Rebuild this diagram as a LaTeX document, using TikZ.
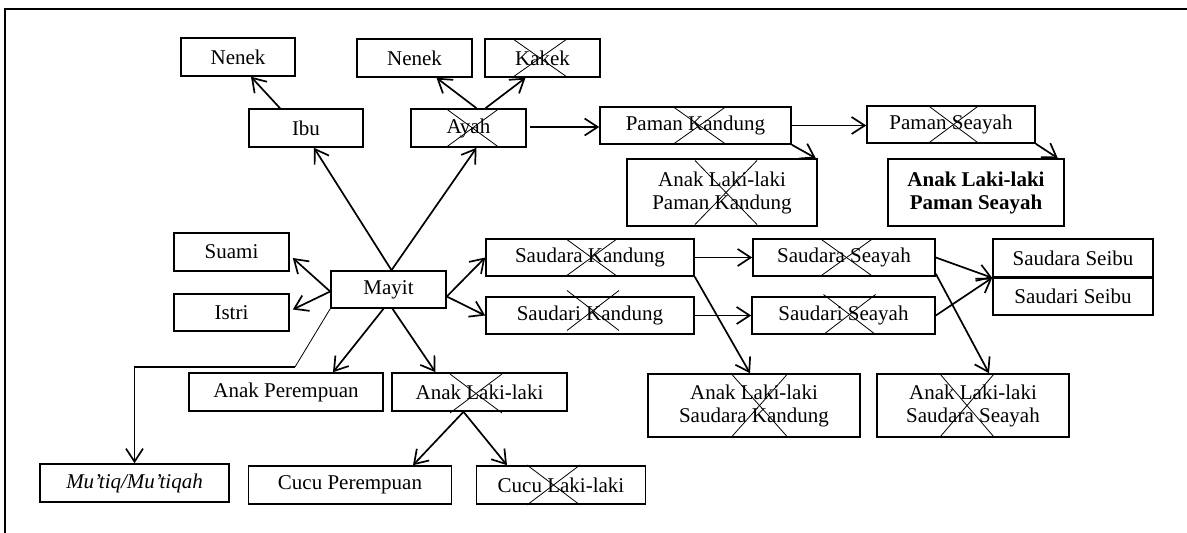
\documentclass[tikz,border=0pt]{standalone}
\usepackage{fontspec}
\setmainfont{Liberation Serif}
\usetikzlibrary{arrows.meta,calc}
\newcommand\xcr[5]{%
  \draw[xline] ($(#1.center)+({(#2)-(#4)},{(#3)-(#5)})$) -- ($(#1.center)+({(#2)+(#4)},{(#3)+(#5)})$);
  \draw[xline] ($(#1.center)+({(#2)+(#4)},{(#3)-(#5)})$) -- ($(#1.center)+({(#2)-(#4)},{(#3)+(#5)})$);}
\begin{document}
\begin{tikzpicture}[x=1pt,y=-1pt,
  box/.style={draw, line width=1.6pt, inner sep=0pt, align=center, font=\fontsize{21}{23}\selectfont},
  arr/.style={line width=1.7pt, -{Straight Barb[length=13pt,width=17pt]}},
  thinline/.style={line width=0.8pt},
  xline/.style={line width=0.8pt},
  frameline/.style={line width=1.8pt}]
\useasboundingbox (0,0) rectangle (1187,533);
% frame
\draw[frameline] (5,533) -- (5,9) -- (1187,9);
% nodes
\node[box,minimum width=114pt,minimum height=38pt] (nenekI) at (238,57) {Nenek};
\node[box,minimum width=114pt,minimum height=38pt] (ibu) at (306,128) {Ibu};
\node[box,minimum width=115pt,minimum height=38pt] (nenekA) at (414.5,58) {Nenek};
\node[box,minimum width=115pt,minimum height=38pt] (kakek) at (542.5,58) {Kakek};
\node[box,minimum width=115pt,minimum height=38pt] (ayah) at (468.5,128) {Ayah};
\node[box,minimum width=191pt,minimum height=37pt] (pamanK) at (695.5,125.5) {Paman Kandung};
\node[box,minimum width=190pt,minimum height=67pt] (anakPK) at (722,192.5) {Anak Laki-laki\\Paman Kandung};
\node[box,minimum width=168pt,minimum height=37pt] (pamanS) at (951,124.5) {Paman Seayah};
\node[box,minimum width=176pt,minimum height=67pt,font=\fontsize{21}{23}\selectfont\bfseries] (anakPS) at (976,192.5) {Anak Laki-laki\\Paman Seayah};
\node[box,minimum width=115pt,minimum height=38pt] (suami) at (231.5,252) {Suami};
\node[box,minimum width=115pt,minimum height=37pt] (istri) at (231.5,312.5) {Istri};
\node[box,minimum width=115pt,minimum height=37pt] (mayit) at (388.5,289.5) {Mayit};
\node[box,minimum width=208pt,minimum height=37pt] (sdrK) at (590,257.5) {Saudara Kandung};
\node[box,minimum width=208pt,minimum height=37pt] (sdriK) at (590,315.5) {Saudari Kandung};
\node[box,minimum width=182pt,minimum height=37pt] (sdrS) at (844,257.5) {Saudara Seayah};
\node[box,minimum width=183pt,minimum height=37pt] (sdriS) at (843.5,315.5) {Saudari Seayah};
\node[box,minimum width=160pt,minimum height=38pt] (seibuA) at (1073,258) {Saudara Seibu};
\node[box,minimum width=160pt,minimum height=38pt] (seibuB) at (1073,296) {Saudari Seibu};
\node[box,minimum width=212pt,minimum height=63pt] (anakSK) at (754,405.5) {Anak Laki-laki\\Saudara Kandung};
\node[box,minimum width=192pt,minimum height=63pt] (anakSS) at (973,405.5) {Anak Laki-laki\\Saudara Seayah};
\node[box,minimum width=194pt,minimum height=38pt] (anakP) at (286,392) {Anak Perempuan};
\node[box,minimum width=175pt,minimum height=38pt] (anakL) at (479.5,392) {Anak Laki-laki};
\node[box,minimum width=189pt,minimum height=38pt] (mutiq) at (134.5,483) {\itshape Mu’tiq/Mu’tiqah};
\node[box,minimum width=203pt,minimum height=38pt] (cucuP) at (350,485) {Cucu Perempuan};
\node[box,minimum width=169pt,minimum height=38pt] (cucuL) at (561,485) {Cucu Laki-laki};
\draw[line width=2.8pt] (seibuA.south west) -- (seibuA.south east);
% crosses
\xcr{kakek}{-2.5}{0}{27}{19}
\xcr{ayah}{4}{0}{26}{19}
\xcr{pamanK}{4}{0}{26}{18.5}
\xcr{anakPK}{4}{0}{31}{32}
\xcr{pamanS}{2.5}{0}{25.5}{19}
\xcr{sdrK}{1.5}{0}{26}{19}
\xcr{sdriK}{3}{-5}{26}{20}
\xcr{sdrS}{2.5}{0}{26.5}{19}
\xcr{sdriS}{6}{-1}{26}{20}
\xcr{anakSK}{5.5}{0}{28}{31.5}
\xcr{anakSS}{-6}{0}{27}{31.5}
\xcr{anakL}{-3.5}{1.5}{26}{19.5}
\xcr{cucuL}{-7.5}{0}{26.5}{20}
% connectors
\coordinate (mtop) at ($(mayit.north)+(3,0)$);
\draw[arr] (mtop) -- ($(ibu.south)+(8,0)$);
\draw[arr] (mtop) -- ($(ayah.south)+(8,0)$);
\draw[arr] ($(ibu.north)+(-26,0)$) -- ($(nenekI.south)+(13,0)$);
\draw[arr] ($(ayah.north)+(8,0)$) -- ($(nenekA.south)+(22,0)$);
\draw[arr] ($(ayah.north)+(17,0)$) -- ($(kakek.south)+(-17,0)$);
\coordinate (aright) at ($(ayah.east)+(3,-1)$);
\draw[arr] (aright) -- (aright -| pamanK.west);
\draw[arr] (pamanK.east) -- (pamanK.east -| pamanS.west);
\draw[arr] (pamanK.south east) -- ($(anakPK.north east)+(-2,0)$);
\draw[arr] (pamanS.south east) -- ($(anakPS.north east)+(-7,0)$);
\coordinate (mleft) at ($(mayit.west)+(0,2)$);
\draw[arr] (mleft) -- ($(suami.east)+(3,6)$);
\draw[arr] (mleft) -- ($(istri.east)+(3,-3)$);
\coordinate (mright) at ($(mayit.east)+(0,7)$);
\draw[arr] (mright) -- (sdrK.west);
\draw[arr] (mright) -- (sdriK.west);
\draw[arr] ($(mayit.south)+(-5,0)$) -- ($(anakP.north)+(47,0)$);
\draw[arr] ($(mayit.south)+(4,0)$) -- ($(anakL.north)+(-44,0)$);
\coordinate (mbend) at (295,367);
\draw[thinline] (mayit.south west) -- (mbend);
\draw[arr] (mbend) -- (mbend -| mutiq.north) -- (mutiq.north);
\coordinate (lbot) at ($(anakL.south)+(-16,0)$);
\draw[arr] (lbot) -- ($(cucuP.north)+(63,0)$);
\draw[arr] (lbot) -- ($(cucuL.north)+(-54,0)$);
\draw[arr] (sdrK.east) -- (sdrK.east -| sdrS.west);
\draw[arr] (sdriK.east) -- (sdriK.east -| sdriS.west);
\draw[arr] (sdrK.south east) -- ($(anakSK.north)+(-4,0)$);
\draw[arr] (sdrS.east) -- (seibuA.south west);
\draw[arr] (sdriS.east) -- (seibuA.south west);
\draw[arr] ($(sdrS.south east)+(0,-3)$) -- ($(anakSS.north)+(16,0)$);
\end{tikzpicture}
\end{document}
